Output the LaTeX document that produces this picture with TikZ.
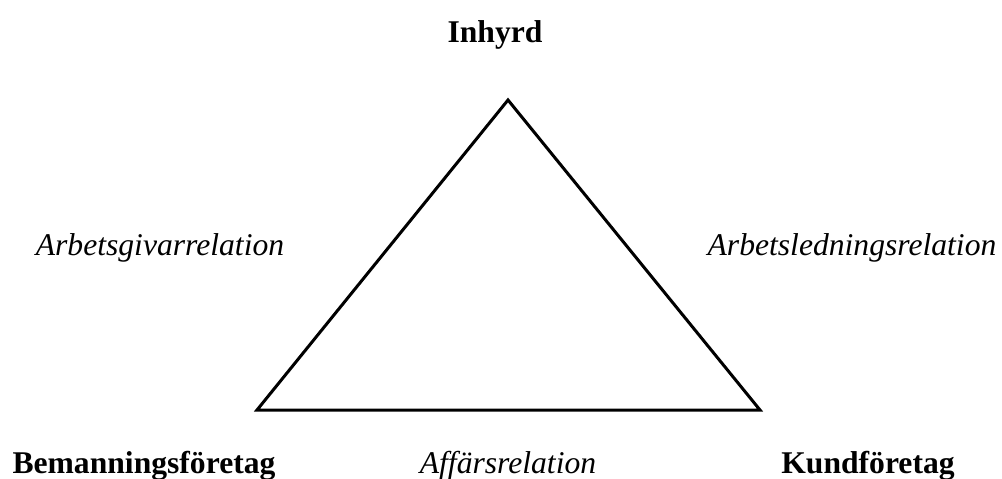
\documentclass[tikz,border=0pt]{standalone}
\usepackage{fontspec}
\setmainfont{Liberation Serif}
\begin{document}
\begin{tikzpicture}[x=0.02cm,y=-0.02cm,
  lbl/.style={anchor=base,inner sep=0pt,font=\fontsize{18}{20}\selectfont},
  party/.style={lbl,font=\fontsize{18}{20}\selectfont\bfseries},
  rel/.style={lbl,font=\fontsize{18}{20}\selectfont\itshape},
  edge/.style={line width=0.06cm}]
\useasboundingbox (0,0) rectangle (1002,478);
\coordinate (top) at (508,100);
\coordinate (bl) at (257,410);
\coordinate (br) at (760,410);
\draw[edge] (top) -- (bl) -- (br) -- cycle;
\node[party] (inhyrd) at (495,42) {Inhyrd};
\node[party] (beman) at (144,473) {Bemanningsföretag};
\node[party] (kund) at (868,473) {Kundföretag};
\node[rel] (affar) at (508,473) {Affärsrelation};
\node[rel] (agiv) at (160,255) {Arbetsgivarrelation};
\node[rel] (aled) at (852,255) {Arbetsledningsrelation};
\end{tikzpicture}
\end{document}
